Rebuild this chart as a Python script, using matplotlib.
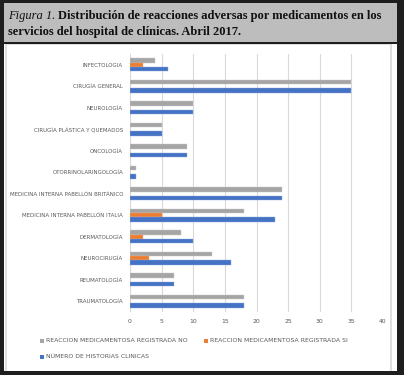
import matplotlib
matplotlib.use('Agg')
import matplotlib.pyplot as plt
import numpy as np
from matplotlib.patches import Rectangle

W, H = 404, 375

servicios = ['INFECTOLOGIA', 'CIRUGÍA GENERAL', 'NEUROLOGÍA', 'CIRUGÍA PLÁSTICA Y QUEMADOS',
             'ONCOLOGÍA', 'OTORRINOLARINGOLOGÍA', 'MEDICINA INTERNA PABELLÓN BRITÁNICO',
             'MEDICINA INTERNA PABELLÓN ITALIA', 'DERMATOLOGÍA', 'NEUROCIRUGÍA',
             'REUMATOLOGÍA', 'TRAUMATOLOGÍA']
reaccion_no = [4, 35, 10, 5, 9, 1, 24, 18, 8, 13, 7, 18]
reaccion_si = [2, 0, 0, 0, 0, 0, 0, 5, 2, 3, 0, 0]
historias = [6, 35, 10, 5, 9, 1, 24, 23, 10, 16, 7, 18]

GRIS, NARANJA, AZUL = '#a5a5a5', '#ed7d31', '#4472c4'
TXT = '#595959'

def fx(px): return px / W
def fy(py): return 1 - py / H

fig = plt.figure(figsize=(W / 100, H / 100), dpi=100, facecolor='white')

# marco exterior y franja del título
fig.patches.append(Rectangle((fx(3), fy(43)), fx(396), 40 / H, transform=fig.transFigure,
                             facecolor='#bdbdbd', edgecolor='none', zorder=1))
fig.patches.append(Rectangle((fx(6), fy(372)), fx(385), 328 / H, transform=fig.transFigure,
                             facecolor='none', edgecolor='#d9d9d9', lw=1.2, zorder=2))
for (x0, y0, w, h) in [(0, 0, 4, 375), (397, 0, 7, 375), (0, 0, 404, 3),
                       (0, 371, 404, 4), (0, 42, 404, 2)]:
    fig.patches.append(Rectangle((fx(x0), fy(y0 + h)), fx(w), h / H, transform=fig.transFigure,
                                 facecolor='#1e1e1e', edgecolor='none', zorder=3))

# título
FS = 9.0
t1 = fig.text(fx(8), fy(16), 'Figura 1.', family='Liberation Serif', style='italic',
              fontsize=FS, va='center', color='#111111')
fig.canvas.draw()
bb = t1.get_window_extent(fig.canvas.get_renderer())
fig.text(bb.x1 / W + fx(2.5), fy(16),
         'Distribución de reacciones adversas por medicamentos en los',
         family='Liberation Serif', weight='bold', fontsize=FS, va='center', color='#111111')
fig.text(fx(8), fy(32), 'servicios del hospital de clínicas. Abril 2017.',
         family='Liberation Serif', weight='bold', fontsize=FS, va='center', color='#111111')

# gráfico
ax = fig.add_axes([fx(130), fy(312), fx(383 - 130), (312 - 54) / H], zorder=5)
ax.patch.set_alpha(0)
y = np.arange(len(servicios))
h = 0.2
ax.barh(y - h, reaccion_no, height=h, color=GRIS, edgecolor='#c8c8c8', lw=0.3, zorder=3)
ax.barh(y, reaccion_si, height=h, color=NARANJA, edgecolor='#f4a46e', lw=0.3, zorder=3)
ax.barh(y + h, historias, height=h, color=AZUL, edgecolor='#8eaadc', lw=0.3, zorder=3)
ax.set_ylim(len(servicios) - 0.5, -0.5)
ax.set_xlim(0, 40)
ax.set_xticks(range(0, 41, 5))
ax.set_yticks(y)
ax.set_yticklabels(servicios)
ax.tick_params(length=0, labelsize=4.4, colors=TXT, pad=4)
ax.tick_params(axis='y', labelsize=3.95, pad=5)
ax.tick_params(axis='x', pad=5)
ax.grid(axis='x', color='#d9d9d9', lw=0.8, zorder=0)
for s in ax.spines.values():
    s.set_visible(False)

# leyenda
legend = [(40, 341, GRIS, 'REACCION MEDICAMENTOSA REGISTRADA NO'),
          (204, 341, NARANJA, 'REACCION MEDICAMENTOSA REGISTRADA SI'),
          (40, 357, AZUL, 'NÚMERO DE HISTORIAS CLINICAS')]
for (px, py, c, lab) in legend:
    fig.patches.append(Rectangle((fx(px), fy(py + 2)), fx(4), 4 / H, transform=fig.transFigure,
                                 facecolor=c, edgecolor='none', zorder=4))
    fig.text(fx(px + 6), fy(py), lab, fontsize=4.4, color=TXT, va='center')

plt.savefig('out.png', dpi=100, facecolor='white')
